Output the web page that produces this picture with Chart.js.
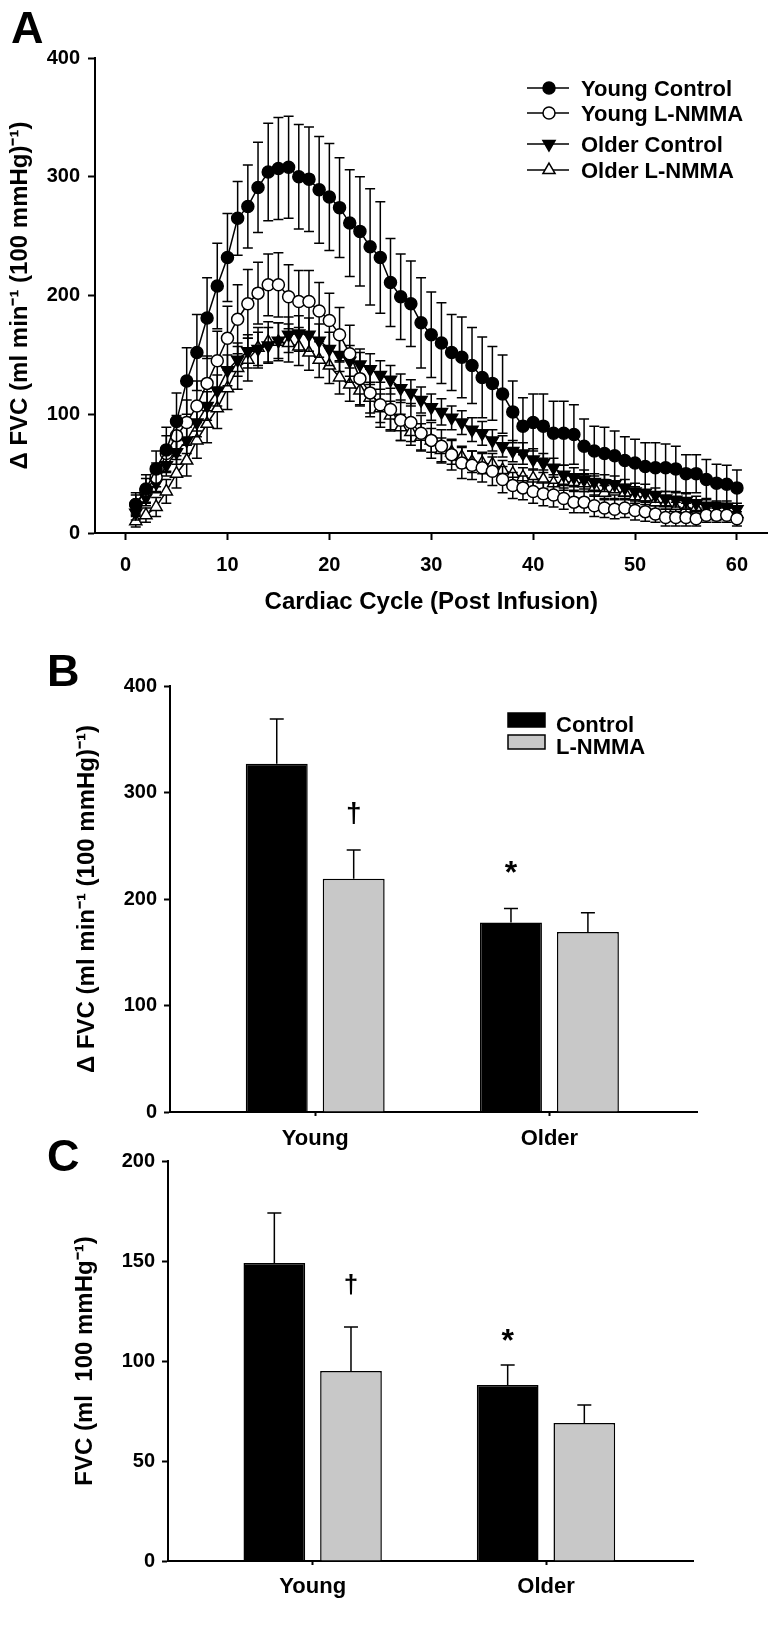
<!DOCTYPE html>
<html>
<head>
<meta charset="utf-8">
<script src="https://cdn.jsdelivr.net/npm/chart.js@4.4.1/dist/chart.umd.min.js"></script>
<style>
body { margin: 0; background: #fff; }
#page { position: relative; width: 776px; height: 1639px; }
canvas { position: absolute; left: 0; }
.panel { position: absolute; font: bold 45px "Liberation Sans", Arial, sans-serif; line-height: 1; }
</style>
</head>
<body>
<div id="page">
<canvas id="chartA" width="776" height="620" style="top:0px"></canvas>
<canvas id="chartB" width="776" height="540" style="top:620px"></canvas>
<canvas id="chartC" width="776" height="519" style="top:1120px"></canvas>
<div class="panel" style="left:11px;top:5px">A</div>
<div class="panel" style="left:47px;top:648px">B</div>
<div class="panel" style="left:47px;top:1133px">C</div>
</div>
<script>
const FONT = '"Liberation Sans", Arial, sans-serif';
Chart.defaults.font.family = FONT;
Chart.defaults.font.weight = 'bold';
Chart.defaults.color = '#000';
Chart.defaults.animation = false;
Chart.defaults.plugins.legend.display = false;
Chart.defaults.plugins.tooltip.enabled = false;

// Panel A: FVC per cardiac cycle
const cycles = [1, 2, 3, 4, 5, 6, 7, 8, 9, 10, 11, 12, 13, 14, 15, 16, 17, 18, 19, 20,
  21, 22, 23, 24, 25, 26, 27, 28, 29, 30, 31, 32, 33, 34, 35, 36, 37, 38, 39, 40,
  41, 42, 43, 44, 45, 46, 47, 48, 49, 50, 51, 52, 53, 54, 55, 56, 57, 58, 59, 60];
const xTicksA = [0, 10, 20, 30, 40, 50, 60];
const yTicksA = [0, 100, 200, 300, 400];

const youngControl = [24, 37, 54, 70, 94, 128, 152, 181, 208, 232,
  265, 275, 291, 304, 307, 308, 300, 298, 289, 283,
  274, 261, 254, 241, 232, 211, 199, 193, 177, 167,
  160, 152, 148, 141, 131, 126, 117, 102, 90, 93,
  90, 84, 84, 83, 73, 69, 67, 65, 61, 59,
  56, 55, 55, 54, 50, 50, 45, 42, 41, 38];
const youngControlSem = [10, 12, 15, 19, 24, 28, 32, 34, 36, 37,
  31, 35, 38, 41, 43, 43, 44, 44, 45, 45,
  42, 45, 46, 49, 47, 37, 36, 36, 38, 36,
  34, 32, 34, 32, 34, 31, 33, 26, 24, 24,
  27, 27, 27, 25, 23, 21, 22, 21, 20, 20,
  20, 21, 20, 19, 16, 16, 17, 16, 16, 15];

const youngLnmma = [24, 36, 47, 67, 82, 93, 107, 126, 145, 164,
  180, 193, 202, 209, 209, 199, 195, 195, 187, 179,
  167, 151, 130, 118, 108, 104, 95, 93, 84, 78,
  73, 66, 59, 57, 55, 52, 45, 40, 38, 35,
  33, 32, 29, 26, 26, 23, 21, 20, 21, 19,
  18, 16, 13, 13, 13, 12, 15, 15, 15, 12];
const youngLnmmaSem = [8, 10, 12, 15, 17, 19, 21, 23, 25, 27,
  29, 29, 26, 26, 27, 27, 26, 26, 24, 23,
  23, 24, 22, 20, 19, 18, 17, 16, 15, 15,
  14, 13, 13, 12, 12, 12, 11, 11, 10, 10,
  10, 10, 9, 9, 9, 9, 8, 8, 8, 8,
  8, 7, 7, 7, 7, 6, 6, 6, 6, 6];

const olderControl = [17, 30, 42, 57, 68, 78, 93, 107, 120, 137,
  146, 153, 155, 158, 162, 167, 168, 167, 162, 155,
  150, 145, 142, 138, 133, 129, 122, 118, 112, 106,
  102, 97, 93, 87, 84, 78, 73, 69, 67, 62,
  59, 55, 49, 47, 45, 43, 42, 41, 38, 35,
  34, 32, 29, 28, 27, 25, 23, 22, 22, 20];
const olderControlSem = [6, 7, 8, 9, 10, 11, 12, 12, 13, 13,
  14, 14, 14, 15, 15, 15, 15, 14, 14, 14,
  14, 13, 13, 13, 12, 12, 12, 11, 11, 11,
  11, 10, 10, 10, 10, 9, 9, 9, 9, 9,
  8, 8, 8, 8, 8, 7, 7, 7, 7, 7,
  7, 6, 6, 6, 6, 6, 6, 5, 5, 5];

const olderLnmma = [10, 15, 22, 35, 50, 61, 78, 92, 105, 122,
  139, 146, 156, 161, 161, 160, 157, 152, 146, 141,
  131, 125, 120, 114, 105, 99, 89, 85, 81, 78,
  70, 68, 64, 60, 59, 58, 53, 50, 47, 46,
  45, 42, 43, 43, 42, 38, 34, 35, 34, 31,
  30, 26, 25, 21, 20, 21, 18, 16, 17, 16];
const olderLnmmaSem = [5, 6, 8, 10, 12, 13, 15, 16, 17, 18,
  18, 18, 17, 17, 16, 16, 16, 15, 15, 15,
  14, 14, 13, 13, 12, 12, 11, 11, 11, 10,
  10, 10, 9, 9, 9, 9, 8, 8, 8, 8,
  8, 7, 7, 7, 7, 7, 6, 6, 6, 6,
  6, 6, 5, 5, 5, 5, 5, 5, 5, 5];

// Panels B and C
const groups = ['Young', 'Older'];
const treatments = ['Control', 'L-NMMA'];
const yTicksB = [0, 100, 200, 300, 400];
const peakControl = [327, 178];
const peakControlSem = [42, 13];
const peakLnmma = [219, 169];
const peakLnmmaSem = [27, 18];
const yTicksC = [0, 50, 100, 150, 200];
const fvcControl = [149, 88];
const fvcControlSem = [25, 10];
const fvcLnmma = [95, 69];
const fvcLnmmaSem = [22, 9];
const marksControl = ['', '*'];
const marksLnmma = ['\u2020', ''];

function drawMarker(ctx, style, x, y, r, rot, fill) {
  ctx.save();
  ctx.fillStyle = fill;
  ctx.strokeStyle = '#000';
  ctx.lineWidth = 1.5;
  ctx.beginPath();
  if (style === 'circle') {
    ctx.arc(x, y, r, 0, Math.PI * 2);
  } else {
    for (let k = 0; k < 3; k++) {
      const a = rot * Math.PI / 180 + k * 2 * Math.PI / 3;
      const px = x + Math.sin(a) * r, py = y - Math.cos(a) * r;
      if (k) ctx.lineTo(px, py); else ctx.moveTo(px, py);
    }
    ctx.closePath();
  }
  ctx.fill();
  ctx.stroke();
  ctx.restore();
}

// error bars drawn under each series of panel A
const errorBarsA = {
  id: 'errorBarsA',
  beforeDatasetDraw(chart, args) {
    const ds = chart.data.datasets[args.index];
    const y = chart.scales.y, ctx = chart.ctx;
    ctx.save();
    ctx.strokeStyle = '#000';
    ctx.lineWidth = 1.5;
    args.meta.data.forEach((pt, i) => {
      const v = ds.data[i].y, e = ds.sem[i];
      const top = y.getPixelForValue(v + e), bot = y.getPixelForValue(v - e);
      ctx.beginPath();
      ctx.moveTo(pt.x, top); ctx.lineTo(pt.x, bot);
      ctx.moveTo(pt.x - 5, top); ctx.lineTo(pt.x + 5, top);
      ctx.moveTo(pt.x - 5, bot); ctx.lineTo(pt.x + 5, bot);
      ctx.stroke();
    });
    ctx.restore();
  }
};

const legendA = {
  id: 'legendA',
  afterDraw(chart) {
    const ctx = chart.ctx;
    const rows = [88, 113, 144, 170];
    chart.data.datasets.forEach((ds, i) => {
      const y = rows[i];
      ctx.save();
      ctx.strokeStyle = '#000';
      ctx.lineWidth = 1.5;
      ctx.beginPath();
      ctx.moveTo(527, y); ctx.lineTo(569, y);
      ctx.stroke();
      drawMarker(ctx, ds.pointStyle, 549, y, ds.pointRadius, ds.pointRotation || 0, ds.pointBackgroundColor);
      ctx.fillStyle = '#000';
      ctx.font = 'bold 22px ' + FONT;
      ctx.textBaseline = 'alphabetic';
      ctx.fillText(ds.label, 581, y + 8);
      ctx.restore();
    });
  }
};

function seriesA(label, values, sem, style, radius, rotation, fill) {
  return {
    label: label,
    data: cycles.map((c, i) => ({ x: c, y: values[i] })),
    sem: sem,
    borderColor: '#000',
    borderWidth: 1.5,
    pointStyle: style,
    pointRadius: radius,
    pointRotation: rotation,
    pointBackgroundColor: fill,
    pointBorderColor: '#000',
    pointBorderWidth: 1.5,
    tension: 0
  };
}

new Chart(document.getElementById('chartA'), {
  type: 'line',
  data: {
    datasets: [
      seriesA('Young Control', youngControl, youngControlSem, 'circle', 6, 0, '#000'),
      seriesA('Young L-NMMA', youngLnmma, youngLnmmaSem, 'circle', 6, 0, '#fff'),
      seriesA('Older Control', olderControl, olderControlSem, 'triangle', 7, 180, '#000'),
      seriesA('Older L-NMMA', olderLnmma, olderLnmmaSem, 'triangle', 7, 0, '#fff')
    ]
  },
  options: {
    responsive: false,
    layout: { padding: { left: 0, top: 58, right: 3, bottom: 3 } },
    scales: {
      x: {
        type: 'linear', min: -3, max: 63,
        afterBuildTicks: s => { s.ticks = xTicksA.map(v => ({ value: v })); },
        ticks: { font: { size: 20 }, padding: 13, maxRotation: 0 },
        grid: { drawOnChartArea: false, tickLength: 7, tickWidth: 2, tickColor: '#000' },
        border: { color: '#000', width: 2 },
        title: { display: true, text: 'Cardiac Cycle (Post Infusion)', font: { size: 24 }, padding: 0 },
        afterFit: s => { s.height = 84; }
      },
      y: {
        min: 0, max: 400,
        afterBuildTicks: s => { s.ticks = yTicksA.map(v => ({ value: v })); },
        ticks: { font: { size: 20 }, padding: 8 },
        grid: { drawOnChartArea: false, tickLength: 7, tickWidth: 2, tickColor: '#000' },
        border: { color: '#000', width: 2 },
        title: { display: true, text: '\u0394 FVC (ml min\u207B\u00B9 (100 mmHg)\u207B\u00B9)', font: { size: 24 }, padding: { top: 6, bottom: 0 } },
        afterFit: s => { s.width = 95; }
      }
    }
  },
  plugins: [errorBarsA, legendA]
});

// bar error bars, significance marks and the legend of panel B
const barExtras = {
  id: 'barExtras',
  afterDatasetsDraw(chart, args, opts) {
    const y = chart.scales.y, ctx = chart.ctx;
    chart.data.datasets.forEach((ds, di) => {
      chart.getDatasetMeta(di).data.forEach((bar, i) => {
        const top = y.getPixelForValue(ds.data[i].y + ds.sem[i]);
        ctx.save();
        ctx.strokeStyle = '#000';
        ctx.lineWidth = 1.5;
        ctx.beginPath();
        ctx.moveTo(bar.x, bar.y); ctx.lineTo(bar.x, top);
        ctx.moveTo(bar.x - 7, top); ctx.lineTo(bar.x + 7, top);
        ctx.stroke();
        const m = ds.marks[i];
        if (m) {
          ctx.fillStyle = '#000';
          ctx.textAlign = 'center';
          ctx.textBaseline = 'alphabetic';
          ctx.font = 'bold ' + opts.size[m] + 'px ' + FONT;
          ctx.fillText(m, bar.x, top - opts.gap[m]);
        }
        ctx.restore();
      });
    });
    if (opts.legend) {
      const lg = opts.legend;
      chart.data.datasets.forEach((ds, i) => {
        const ry = lg.y + i * 22;
        ctx.save();
        ctx.fillStyle = ds.backgroundColor;
        ctx.fillRect(lg.x, ry, 37, 14);
        ctx.strokeStyle = '#000';
        ctx.lineWidth = 1.5;
        ctx.strokeRect(lg.x, ry, 37, 14);
        ctx.fillStyle = '#000';
        ctx.font = 'bold 22px ' + FONT;
        ctx.textBaseline = 'alphabetic';
        ctx.fillText(ds.label, lg.x + 48, ry + 19);
        ctx.restore();
      });
    }
  }
};

function barSet(label, values, sem, marks, fill) {
  return {
    label: label,
    data: groups.map((g, i) => ({ x: i + 1, y: values[i] })),
    sem: sem,
    marks: marks,
    backgroundColor: fill,
    borderColor: '#000',
    borderWidth: 1.5,
    barPercentage: 0.805,
    categoryPercentage: 0.657
  };
}

function barChart(id, control, controlSem, lnmma, lnmmaSem, yTicks, title, cfg) {
  return new Chart(document.getElementById(id), {
    type: 'bar',
    data: {
      datasets: [
        barSet(treatments[0], control, controlSem, marksControl, '#000'),
        barSet(treatments[1], lnmma, lnmmaSem, marksLnmma, '#c8c8c8')
      ]
    },
    options: {
      responsive: false,
      layout: { padding: cfg.padding },
      scales: {
        x: {
          type: 'linear', min: 0.38, max: 2.63, offset: false,
          afterBuildTicks: s => { s.ticks = groups.map((g, i) => ({ value: i + 1 })); },
          ticks: { callback: v => groups[v - 1], font: { size: 22 }, padding: cfg.xPad, maxRotation: 0 },
          grid: { offset: false, drawOnChartArea: false, tickLength: 4, tickWidth: 2, tickColor: '#000' },
          border: { color: '#000', width: 2 },
          afterFit: s => { s.height = 45; }
        },
        y: {
          min: yTicks[0], max: yTicks[yTicks.length - 1],
          afterBuildTicks: s => { s.ticks = yTicks.map(v => ({ value: v })); },
          ticks: { font: { size: 20 }, padding: 7 },
          grid: { drawOnChartArea: false, tickLength: 6, tickWidth: 2, tickColor: '#000' },
          border: { color: '#000', width: 2 },
          title: { display: true, text: title, font: { size: 24 }, padding: { top: cfg.titlePad, bottom: 0 } },
          afterFit: s => { s.width = cfg.axisX; }
        }
      },
      plugins: { barExtras: cfg.extras }
    },
    plugins: [barExtras]
  });
}

barChart('chartB', peakControl, peakControlSem, peakLnmma, peakLnmmaSem, yTicksB,
  '\u0394 FVC (ml min\u207B\u00B9 (100 mmHg)\u207B\u00B9)', {
    padding: { left: 0, top: 66, right: 79, bottom: 3 },
    axisX: 170, titlePad: 73, xPad: 10,
    extras: { gap: { '\u2020': 28, '*': 26 }, size: { '\u2020': 28, '*': 32 }, legend: { x: 508, y: 93 } }
  });

barChart('chartC', fvcControl, fvcControlSem, fvcLnmma, fvcLnmmaSem, yTicksC,
  'FVC (ml  100 mmHg\u207B\u00B9)', {
    padding: { left: 0, top: 41, right: 83, bottom: 33 },
    axisX: 168, titlePad: 71, xPad: 9,
    extras: { gap: { '\u2020': 34, '*': 14 }, size: { '\u2020': 26, '*': 32 }, legend: null }
  });
</script>
</body>
</html>
